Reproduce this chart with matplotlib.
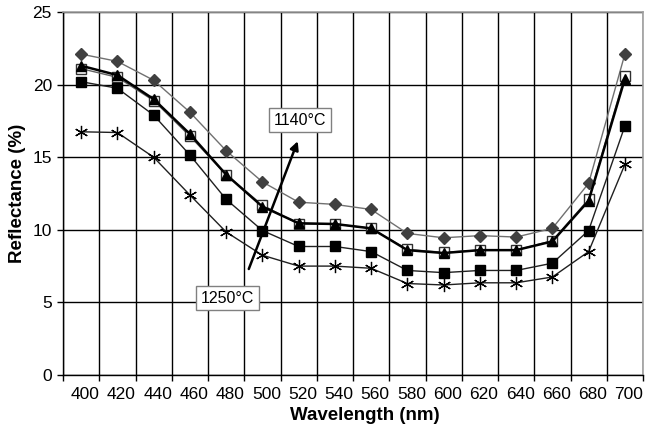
import matplotlib
matplotlib.use("Agg")
import matplotlib.pyplot as plt
import matplotlib.transforms as mtransforms
import numpy as np

plt.rcParams['font.family'] = ['Liberation Sans', 'DejaVu Sans']

wavelengths = [400, 420, 440, 460, 480, 500, 520, 540, 560, 580, 600, 620, 640, 660, 680, 700]

s_diamond = [22.1, 21.6, 20.3, 18.1, 15.45, 13.3, 11.9, 11.75, 11.4, 9.75, 9.45, 9.6, 9.5, 10.1, 13.2, 22.1]
s_open_sq = [21.1, 20.5, 18.9, 16.45, 13.8, 11.7, 10.4, 10.4, 10.1, 8.65, 8.45, 8.6, 8.6, 9.25, 12.1, 20.6]
s_triangle = [21.3, 20.65, 19.0, 16.6, 13.8, 11.6, 10.45, 10.4, 10.1, 8.6, 8.4, 8.6, 8.6, 9.2, 12.0, 20.4]
s_fill_sq = [20.2, 19.75, 17.9, 15.15, 12.1, 9.95, 8.85, 8.85, 8.5, 7.2, 7.05, 7.2, 7.2, 7.7, 9.95, 17.15]
s_star = [16.75, 16.7, 15.0, 12.4, 9.85, 8.25, 7.5, 7.5, 7.35, 6.3, 6.2, 6.35, 6.35, 6.75, 8.5, 14.5]

yticks = [0, 5, 10, 15, 20, 25]

fig = plt.figure(figsize=(6.45, 4.3), dpi=100)
ax = fig.add_axes([63/645, 1-375/430, 580/645, 363/430])

x = np.array(wavelengths)

ax.plot(x, s_diamond, color='#707070', lw=1.0, marker='D', ms=6.5,
        mfc='#404040', mec='#404040', zorder=4)
ax.plot(x, s_open_sq, color='#606060', lw=1.0, marker='s', ms=7.5,
        mfc='white', mec='#303030', mew=1.0, zorder=4)
ax.plot(x, s_triangle, color='black', lw=1.8, marker='^', ms=7,
        mfc='black', mec='black', zorder=5)
ax.plot(x, s_fill_sq, color='#202020', lw=1.0, marker='s', ms=7.5,
        mfc='black', mec='black', zorder=4)
ax.plot(x, s_star, color='#202020', lw=1.0, marker=(6, 2, 0), ms=9.5,
        mfc='black', mec='black', mew=0.9, zorder=4)

ax.set_xlim(390, 710)
ax.set_ylim(0, 25)

# gridlines / tick marks between categories
ax.set_xticks(np.arange(390, 711, 20))
ax.set_xticklabels([])
ax.set_xticks(x, minor=True)
ax.set_xticklabels([str(w) for w in wavelengths], minor=True)
ax.tick_params(axis='x', which='major', direction='out', length=4, width=1.0, color='black')
ax.tick_params(axis='x', which='minor', length=0, pad=8.5, labelsize=12.5)
shift = mtransforms.ScaledTranslation(4/100, 0, fig.dpi_scale_trans)
for lab in ax.get_xticklabels(minor=True):
    lab.set_transform(lab.get_transform() + shift)
ax.set_yticks(yticks)
ax.set_yticklabels([str(v) for v in yticks])
ax.tick_params(axis='y', direction='out', length=4, width=1.0, pad=4, labelsize=12.5)

ax.grid(True, which='major', color='black', lw=1.0, zorder=1)
ax.set_axisbelow(True)

for side in ['top', 'right']:
    ax.spines[side].set_color('#a0a0a0')
    ax.spines[side].set_linewidth(1.2)
for side in ['left', 'bottom']:
    ax.spines[side].set_color('black')
    ax.spines[side].set_linewidth(1.0)

ax.annotate('', xy=(519.5, 16.1), xytext=(492.5, 7.3),
            arrowprops=dict(arrowstyle='-|>,head_length=0.5,head_width=0.25', lw=1.8,
                            color='black', shrinkA=0, shrinkB=0), zorder=6)

ax.text(521, 17.55, '1140°C', fontsize=11.5, ha='center', va='center', zorder=7,
        bbox=dict(boxstyle='square,pad=0.3', fc='white', ec='#808080', lw=1.0))
ax.text(481, 5.3, '1250°C', fontsize=11.5, ha='center', va='center', zorder=7,
        bbox=dict(boxstyle='square,pad=0.3', fc='white', ec='#808080', lw=1.0))

fig.text(365/645, 1-415/430, 'Wavelength (nm)', fontsize=13.5, fontweight='bold',
         ha='center', va='center')
fig.text(18/645, 1-193/430, 'Reflectance (%)', fontsize=13.5, fontweight='bold',
         ha='center', va='center', rotation=90)

fig.savefig('out.png', dpi=100)
